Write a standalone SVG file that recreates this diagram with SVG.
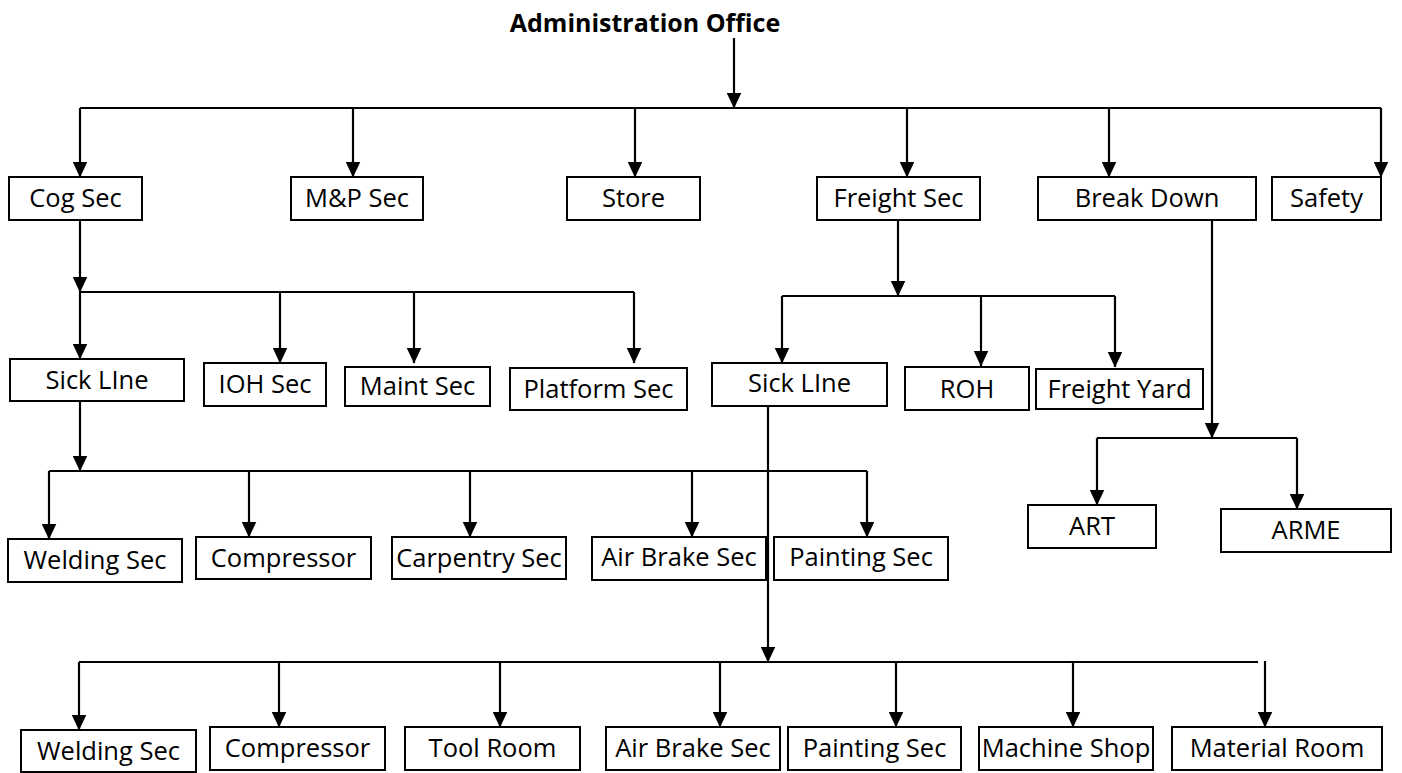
<svg xmlns="http://www.w3.org/2000/svg" width="1402" height="773" viewBox="0 0 1402 773">
<defs>
<marker id="ah" markerUnits="userSpaceOnUse" markerWidth="17" markerHeight="15" refX="15.5" refY="7.5" orient="auto">
<path d="M0,0 L16,7.5 L0,15 Z" fill="#000"/>
</marker>
<style>
.box{fill:#fff;stroke:#000;stroke-width:2}
.lbl{font-family:"Open Sans","Liberation Sans",sans-serif;font-size:25.5px;text-anchor:middle;fill:#000}
.ttl{font-family:"Open Sans","Liberation Sans",sans-serif;font-size:25px;font-weight:bold;text-anchor:middle;fill:#000}
.c{stroke:#000;stroke-width:2.2;fill:none}
.a{stroke:#000;stroke-width:2.2;fill:none;marker-end:url(#ah)}
</style>
</defs>
<rect width="1402" height="773" fill="#fff"/>

<g id="connectors">
<path class="a" d="M734,38 V108"/>
<path class="c" d="M80,108 H1381"/>
<path class="a" d="M80,108 V177"/>
<path class="a" d="M353,108 V177"/>
<path class="a" d="M635,108 V177"/>
<path class="a" d="M907,108 V177"/>
<path class="a" d="M1109,108 V177"/>
<path class="a" d="M1381,108 V177"/>

<path class="a" d="M80,220 V292"/>
<path class="c" d="M80,292 H634"/>
<path class="a" d="M80,292 V359"/>
<path class="a" d="M280,292 V363"/>
<path class="a" d="M414,292 V363"/>
<path class="a" d="M634,292 V363"/>

<path class="a" d="M80,401 V471"/>
<path class="c" d="M49,471 H867"/>
<path class="a" d="M49,471 V539"/>
<path class="a" d="M249,471 V537"/>
<path class="a" d="M470,471 V537"/>
<path class="a" d="M692,471 V537"/>
<path class="a" d="M867,471 V537"/>

<path class="a" d="M898,220 V296"/>
<path class="c" d="M782,296 H1115"/>
<path class="a" d="M782,296 V363"/>
<path class="a" d="M981,296 V366"/>
<path class="a" d="M1115,296 V367"/>

<path class="a" d="M1212,220 V438"/>
<path class="c" d="M1097,438 H1297"/>
<path class="a" d="M1097,438 V505"/>
<path class="a" d="M1297,438 V509"/>

<path class="a" d="M768,406 V662"/>
<path class="c" d="M79,662 H1258"/>
<path class="a" d="M79,662 V730"/>
<path class="a" d="M279,662 V727"/>
<path class="a" d="M500,662 V727"/>
<path class="a" d="M720,662 V727"/>
<path class="a" d="M896,662 V727"/>
<path class="a" d="M1073,662 V727"/>
<path class="a" d="M1265,661 V727"/>
</g>

<g id="admin"><text class="ttl" x="645" y="32">Administration Office</text></g>

<g id="cog-sec"><rect class="box" x="9" y="177" width="133" height="43"/><text class="lbl" x="75.5" y="207">Cog Sec</text></g>
<g id="mp-sec"><rect class="box" x="291" y="177" width="132" height="43"/><text class="lbl" x="357" y="207">M&amp;P Sec</text></g>
<g id="store"><rect class="box" x="567" y="177" width="133" height="43"/><text class="lbl" x="633.5" y="207">Store</text></g>
<g id="freight-sec"><rect class="box" x="817" y="177" width="163" height="43"/><text class="lbl" x="898.5" y="207">Freight Sec</text></g>
<g id="break-down"><rect class="box" x="1038" y="177" width="218" height="43"/><text class="lbl" x="1147" y="207">Break Down</text></g>
<g id="safety"><rect class="box" x="1272" y="177" width="109" height="43"/><text class="lbl" x="1326.5" y="207">Safety</text></g>

<g id="sick-line-1"><rect class="box" x="10" y="359" width="174" height="42"/><text class="lbl" x="97" y="388.5">Sick LIne</text></g>
<g id="ioh-sec"><rect class="box" x="204" y="363" width="122" height="43"/><text class="lbl" x="265" y="393">IOH Sec</text></g>
<g id="maint-sec"><rect class="box" x="345" y="367" width="145" height="39"/><text class="lbl" x="417.5" y="395">Maint Sec</text></g>
<g id="platform-sec"><rect class="box" x="510" y="368" width="177" height="42"/><text class="lbl" x="598.5" y="397.5">Platform Sec</text></g>

<g id="sick-line-2"><rect class="box" x="712" y="363" width="175" height="43"/><text class="lbl" x="799.5" y="392">Sick LIne</text></g>
<g id="roh"><rect class="box" x="905" y="367" width="124" height="43"/><text class="lbl" x="967" y="397.5">ROH</text></g>
<g id="freight-yard"><rect class="box" x="1036" y="369" width="167" height="40"/><text class="lbl" x="1119.5" y="397.5">Freight Yard</text></g>

<g id="welding-sec-1"><rect class="box" x="8" y="539" width="174" height="43"/><text class="lbl" x="95" y="569">Welding Sec</text></g>
<g id="compressor-1"><rect class="box" x="196" y="537" width="175" height="42"/><text class="lbl" x="283.5" y="566.5">Compressor</text></g>
<g id="carpentry-sec"><rect class="box" x="392" y="537" width="174" height="42"/><text class="lbl" x="479" y="566.5">Carpentry Sec</text></g>
<g id="air-brake-sec-1"><rect class="box" x="592" y="537" width="174" height="43"/><text class="lbl" x="679" y="566">Air Brake Sec</text></g>
<g id="painting-sec-1"><rect class="box" x="774" y="537" width="174" height="43"/><text class="lbl" x="861" y="566">Painting Sec</text></g>

<g id="art"><rect class="box" x="1028" y="505" width="128" height="43"/><text class="lbl" x="1092" y="534.5">ART</text></g>
<g id="arme"><rect class="box" x="1221" y="509" width="170" height="43"/><text class="lbl" x="1306" y="538.5">ARME</text></g>

<g id="welding-sec-2"><rect class="box" x="21" y="730" width="175" height="42"/><text class="lbl" x="108.5" y="759.5">Welding Sec</text></g>
<g id="compressor-2"><rect class="box" x="210" y="727" width="175" height="43"/><text class="lbl" x="297.5" y="756.5">Compressor</text></g>
<g id="tool-room"><rect class="box" x="405" y="727" width="175" height="43"/><text class="lbl" x="492.5" y="756.5">Tool Room</text></g>
<g id="air-brake-sec-2"><rect class="box" x="606" y="727" width="174" height="43"/><text class="lbl" x="693" y="756.5">Air Brake Sec</text></g>
<g id="painting-sec-2"><rect class="box" x="788" y="727" width="173" height="43"/><text class="lbl" x="874.5" y="756.5">Painting Sec</text></g>
<g id="machine-shop"><rect class="box" x="979" y="727" width="174" height="43"/><text class="lbl" x="1066" y="756.5">Machine Shop</text></g>
<g id="material-room"><rect class="box" x="1172" y="727" width="210" height="43"/><text class="lbl" x="1277" y="756.5">Material Room</text></g>
</svg>
